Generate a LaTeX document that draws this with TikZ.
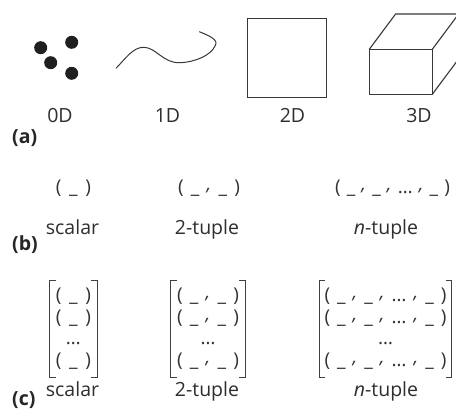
\documentclass[tikz,border=0pt]{standalone}
\usepackage{fontspec}
\setmainfont{Open Sans}
\begin{document}
\begin{tikzpicture}[x=1pt,y=-1pt,
  ink/.style={draw=black!78, line width=1.1pt},
  lbl/.style={anchor=base, inner sep=0, text=black!82, font=\fontsize{19.5}{24}\selectfont},
  part/.style={anchor=base west, inner sep=0, text=black!85, font=\fontsize{19.5}{24}\selectfont\bfseries},
  tup/.style={anchor=center, inner sep=0, text=black!80, font=\fontsize{19}{22}\selectfont},
  mat/.style={anchor=center, inner sep=0, minimum height=96.5pt, align=center, text=black!80, font=\fontsize{19}{21.5}\selectfont},
  brk/.style={draw=black!75, line width=0.9pt},
  dot/.style={circle, fill=black!88, inner sep=0, minimum size=13pt}
]
\newcommand\cm{\raisebox{0.3ex}{\itshape,}}
\newcommand\tsc{\makebox[35pt][s]{(\hfill\_\hfill)}}
\newcommand\ttw{\makebox[62pt][s]{(\hfill\_\hfill\cm\hfill\_\hfill)}}
\newcommand\tnn[1]{\makebox[#1][s]{(\hfill\_\hfill\cm\hfill\_\hfill\cm\hfill…\hfill\cm\hfill\_\hfill)}}
\newcommand\brackets[1]{%
  \draw[brk] ([xshift=6pt]#1.north west) -- (#1.north west) -- (#1.south west) -- ([xshift=6pt]#1.south west);
  \draw[brk] ([xshift=-6pt]#1.north east) -- (#1.north east) -- (#1.south east) -- ([xshift=-6pt]#1.south east);}
\useasboundingbox (0,0) rectangle (456,417);
\fill[white] (0,0) rectangle (456,417);
% (a)
\node[dot] (d1) at (40.7,47.7) {};
\node[dot] (d2) at (71.7,42.3) {};
\node[dot] (d3) at (50.7,62.7) {};
\node[dot] (d4) at (71.7,73.3) {};
\coordinate (c0) at (116,68.3);
\coordinate (c1) at (143.3,47.3);
\coordinate (c2) at (180,62.7);
\coordinate (c3) at (215,46);
\coordinate (c4) at (199.3,31.7);
\draw[draw=black!78, line width=1pt] (c0) .. controls (126,58) and (133,47.5) .. (c1)
  .. controls (156,47) and (163,63.5) .. (c2)
  .. controls (196,62) and (211,55) .. (c3)
  .. controls (219,40) and (210,36) .. (c4);
\node[ink, rectangle, inner sep=0, minimum width=79.4pt, minimum height=79pt] (sq) at (287,57.8) {};
\coordinate (fa) at (369.3,49.3);
\coordinate (fb) at (432.3,49.3);
\coordinate (fc) at (432.3,94.3);
\coordinate (fd) at (369.3,94.3);
\draw[ink, line join=round] (fa) -- (fb) -- (fc) -- (fd) -- cycle;
\draw[ink, line join=round] (fa) -- ++(26.3,-35.3) -- ++(63,0) -- ++(0,45) -- (fc);
\draw[ink] (fb) -- ++(26.3,-35.3);
\node[lbl] (l0) at (60,123) {0D};
\node[lbl] (l1) at (167.5,123) {1D};
\node[lbl] (l2) at (292.5,123) {2D};
\node[lbl] (l3) at (419,123) {3D};
\node[part] (pa) at (12,144) {(a)};
% (b)
\node[tup] (b1) at (73.5,188.5) {\tsc};
\node[tup] (b2) at (209,188.5) {\ttw};
\node[tup] (b3) at (392.5,188.5) {\tnn{115pt}};
\node[lbl] (lb1) at (72.5,235) {scalar};
\node[lbl] (lb2) at (207,235) {2-tuple};
\node[lbl] (lb3) at (386,235) {\textit{n}-tuple};
\node[part] (pb) at (12,251) {(b)};
% (c)
\node[mat, minimum width=46.7pt] (m1) at (73.4,328.7) {\tsc\\\tsc\\…\\\tsc};
\node[mat, minimum width=74pt] (m2) at (208,328.7) {\ttw\\\ttw\\…\\\ttw};
\node[mat, minimum width=132.4pt] (m3) at (385.5,328.7) {\tnn{122pt}\\\tnn{122pt}\\…\\\tnn{122pt}};
\brackets{m1}
\brackets{m2}
\brackets{m3}
\node[lbl] (lc1) at (72.5,396.7) {scalar};
\node[lbl] (lc2) at (207,396.7) {2-tuple};
\node[lbl] (lc3) at (386,396.7) {\textit{n}-tuple};
\node[part] (pc) at (12,406) {(c)};
\end{tikzpicture}
\end{document}
